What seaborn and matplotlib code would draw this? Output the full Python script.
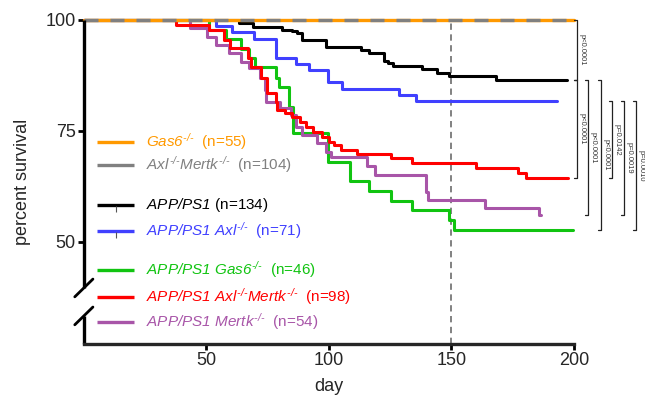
import matplotlib
matplotlib.use("Agg")
import matplotlib.pyplot as plt
import seaborn as sns
import pandas as pd

# Kaplan-Meier step curves (day, percent survival)
black_t = [0, 63.5, 69, 81, 85, 87, 89, 99, 113, 116.5, 122.5, 124, 126, 138, 144, 149, 168, 197]
black_s = [100, 99.2, 98.5, 97.8, 97.4, 97.0, 95.5, 93.9, 93.2, 92.5, 90.8, 90.3, 89.5, 89.0, 88.0, 87.4, 86.5, 86.5]

blue_t = [0, 54, 60.5, 69.5, 78.5, 86.7, 92, 99.8, 105.5, 128.7, 135.7, 193]
blue_s = [100, 98.6, 97.2, 95.8, 91.5, 90.1, 88.7, 85.9, 84.5, 83.1, 81.7, 81.7]

red_t = [0, 37.4, 51.2, 57, 59.5, 66.8, 68.4, 72.4, 74.9, 78.4, 79, 82, 85, 88, 90.8, 93.4,
         97.3, 100.2, 102, 105, 111.6, 125.5, 134, 160, 177, 180.5, 197.5]
red_s = [100, 98.9, 97.7, 95.5, 93.7, 91.4, 89.4, 86.9, 83.6, 81.5, 79.7, 79.0, 78.2, 77.0, 75.9, 74.8,
         73.6, 72.5, 71.8, 70.7, 69.8, 68.8, 67.7, 66.6, 65.5, 64.4, 64.4]

purple_t = [0, 43.5, 50.4, 54, 59.4, 64.3, 67.2, 71.7, 74, 74.4, 80, 84.7, 86.7, 89, 95.3, 99, 101,
            115.5, 118.6, 139.5, 140.3, 163.5, 185.9, 186.7]
purple_s = [100, 98.1, 96.2, 94.4, 92.6, 90.6, 89.2, 86.9, 84.2, 81.5, 80.2, 78.6, 75.9, 74.1, 72.3, 70.3, 69.1,
            67.1, 65.1, 61.3, 59.5, 57.7, 56.1, 56.1]

green_t = [0, 51.2, 58, 64, 67.5, 70, 78.4, 79.8, 83.9, 85.2, 99.5, 108.4, 116.5, 125.4, 133.7, 149, 151, 199.5]
green_s = [100, 97.8, 95.7, 93.5, 91.4, 89.3, 87.0, 84.9, 80.3, 74.5, 67.9, 63.7, 61.5, 59.3, 57.1, 54.9, 52.6, 52.6]

flat_t = [0, 200]
flat_s = [100, 100]

ko = r"^{\text{-/-}}"
labels = [r"$\mathit{Gas6}" + ko + r"$  (n=55)",
          r"$\mathit{Axl}" + ko + r"\mathit{Mertk}" + ko + r"$  (n=104)",
          r"$\mathit{APP/PS1}$ (n=134)",
          r"$\mathit{APP/PS1\ Axl}" + ko + r"$  (n=71)",
          r"$\mathit{APP/PS1\ Gas6}" + ko + r"$  (n=46)",
          r"$\mathit{APP/PS1\ Axl}" + ko + r"\mathit{Mertk}" + ko + r"$  (n=98)",
          r"$\mathit{APP/PS1\ Mertk}" + ko + r"$  (n=54)"]
colors = ["#FF9900", "#808080", "#000000", "#4040FF", "#11C411", "#FF0000", "#A855A8"]

# p-value brackets: (x day, y top, y bottom, text)
brackets = [(201.0, 100.0, 86.5, "p<0.0001"),
            (201.0, 86.5, 64.4, "p<0.0001"),
            (205.5, 86.5, 56.1, "p<0.0001"),
            (210.8, 86.5, 52.6, "p<0.0001"),
            (215.3, 81.7, 64.4, "p=0.0142"),
            (220.2, 81.7, 56.1, "p=0.0019"),
            (225.1, 81.7, 52.6, "p=0.0010")]

sns.set_style("ticks")
plt.rcParams["font.family"] = ["Liberation Sans", "DejaVu Sans"]
plt.rcParams["mathtext.fontset"] = "custom"
plt.rcParams["mathtext.rm"] = "Liberation Sans:italic"
plt.rcParams["mathtext.it"] = "Liberation Sans:italic"

fig = plt.figure(figsize=(6.45, 3.98), dpi=100)
ax = fig.add_axes([0.130, 0.136, 0.760, 0.814])

curves = [(black_t, black_s, colors[2]), (blue_t, blue_s, colors[3]), (green_t, green_s, colors[4]),
          (purple_t, purple_s, colors[6]), (red_t, red_s, colors[5])]
for t, s, c in curves:
    sns.lineplot(x=t, y=s, ax=ax, color=c, lw=2.2, drawstyle="steps-post",
                 estimator=None, sort=False, clip_on=False)

sns.lineplot(x=flat_t, y=flat_s, ax=ax, color=colors[0], lw=2.4, estimator=None, clip_on=False)
sns.lineplot(x=flat_t, y=flat_s, ax=ax, color=colors[1], lw=2.4, estimator=None, clip_on=False,
             linestyle=(0, (4.2, 3.6)))

ax.axvline(150, color="#777777", lw=1.3, ls=(0, (3.5, 2.5)), zorder=0)

ax.set_xlim(0, 200)
ax.set_ylim(27, 100)
ax.set_xticks([50, 100, 150, 200])
ax.set_yticks([50, 75, 100])
ax.tick_params(axis="both", labelsize=13, width=2, length=4, pad=2, color="black")
ax.set_xlabel("day", fontsize=13, labelpad=6)
ax.set_ylabel("percent survival", fontsize=13, labelpad=10)

for side in ["top", "right"]:
    ax.spines[side].set_visible(False)
ax.spines["bottom"].set_linewidth(2.4)
ax.spines["left"].set_visible(False)

# broken left axis
ax.plot([0, 0], [100, 39.6], color="black", lw=2.4, clip_on=False, solid_capstyle="butt")
ax.plot([0, 0], [33.3, 27], color="black", lw=2.4, clip_on=False, solid_capstyle="butt")
for yc in [39.6, 33.3]:
    ax.plot([-3.7, 3.7], [yc - 2.0, yc + 2.0], color="black", lw=2.0, clip_on=False)

# brackets
for x, y1, y2, txt in brackets:
    ax.plot([x - 1.2, x, x, x - 1.2], [y1, y1, y2, y2], color="#222222", lw=0.9, clip_on=False)
    ax.text(x + 0.9, (y1 + y2) / 2, txt, rotation=-90, fontsize=5.4, color="#333333",
            ha="left", va="center", clip_on=False)

# manual legend
leg_y = [72.5, 67.3, 58.3, 52.5, 43.7, 37.6, 32.0]
for lab, c, y in zip(labels, colors, leg_y):
    ax.plot([5.5, 20.6], [y, y], color=c, lw=2.4, clip_on=False, solid_capstyle="butt")
    ax.text(25.5, y, lab, color=c, fontsize=11, ha="left", va="center")
for y in [leg_y[2], leg_y[3]]:
    ax.plot([13.0], [y - 0.9], marker="|", color="#555555", ms=4, mew=0.8)

fig.savefig("out.png", dpi=100)
